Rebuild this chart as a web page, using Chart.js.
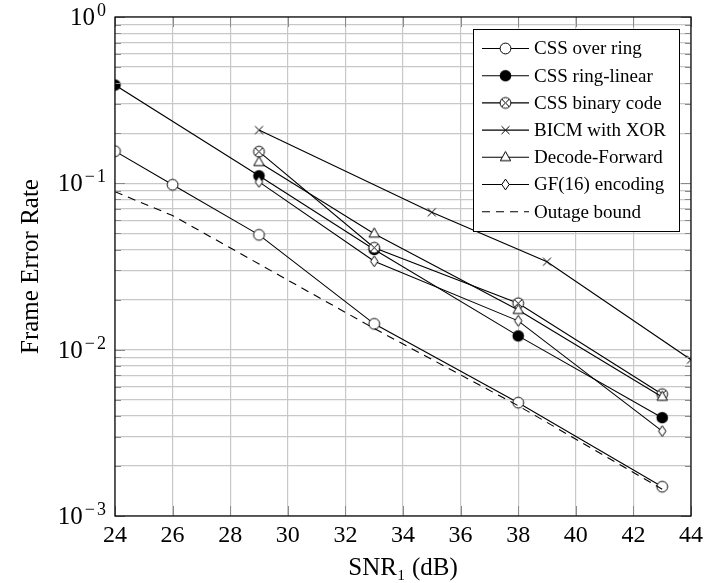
<!DOCTYPE html>
<html>
<head>
<meta charset="utf-8">
<script src="https://cdn.jsdelivr.net/npm/chart.js@4"></script>
<style>
  html, body { margin: 0; padding: 0; background: #fff; }
  canvas { display: block; }
</style>
</head>
<body>
<canvas id="myChart" width="715" height="583"></canvas>
<script>
// values
const xTicks = [24, 26, 28, 30, 32, 34, 36, 38, 40, 42, 44];
const yTickValues = [0.001, 0.01, 0.1, 1];
const yTickExponents = ['\u22123', '\u22122', '\u22121', '0'];

const ringSnr = [24, 26, 29, 33, 38, 43];
const ringFer = [0.156, 0.098, 0.049, 0.0143, 0.0048, 0.0015];

const linearSnr = [24, 29, 33, 38, 43];
const linearFer = [0.39, 0.111, 0.040, 0.0121, 0.0039];

const binarySnr = [29, 33, 38, 43];
const binaryFer = [0.155, 0.041, 0.019, 0.0054];

const bicmSnr = [29, 35, 39, 44];
const bicmFer = [0.209, 0.067, 0.0338, 0.0087];

const dfSnr = [29, 33, 38, 43];
const dfFer = [0.134, 0.0498, 0.0173, 0.0052];

const gfSnr = [29, 33, 38, 43];
const gfFer = [0.102, 0.034, 0.0149, 0.00324];

const outageSnr = [24, 26, 33, 38, 43];
const outageFer = [0.089, 0.064, 0.0134, 0.0046, 0.00145];

const serif = "'Liberation Serif', 'DejaVu Serif', serif";

function makeMarker(kind) {
    const s = 15, c = document.createElement('canvas');
    c.width = s; c.height = s;
    const g = c.getContext('2d');
    const m = s / 2;
    g.lineWidth = 1;
    g.strokeStyle = '#000';
    g.fillStyle = '#fff';
    g.beginPath();
    if (kind === 'o' || kind === 'otimes') {
        g.arc(m, m, 5.4, 0, Math.PI * 2);
        g.fill(); g.stroke();
        if (kind === 'otimes') {
            const d = 3.7;
            g.beginPath();
            g.moveTo(m - d, m - d); g.lineTo(m + d, m + d);
            g.moveTo(m + d, m - d); g.lineTo(m - d, m + d);
            g.stroke();
        }
    } else if (kind === '*') {
        g.fillStyle = '#000';
        g.arc(m, m, 5.8, 0, Math.PI * 2);
        g.fill();
    } else if (kind === 'x') {
        const d = 4;
        g.moveTo(m - d, m - d); g.lineTo(m + d, m + d);
        g.moveTo(m + d, m - d); g.lineTo(m - d, m + d);
        g.stroke();
    } else if (kind === 'triangle') {
        g.moveTo(m, m - 5.8); g.lineTo(m + 5.2, m + 3.4); g.lineTo(m - 5.2, m + 3.4); g.closePath();
        g.fill(); g.stroke();
    } else if (kind === 'diamond') {
        g.moveTo(m, m - 5.4); g.lineTo(m + 3.7, m); g.lineTo(m, m + 5.4); g.lineTo(m - 3.7, m); g.closePath();
        g.fill(); g.stroke();
    }
    return c;
}

function pts(xs, ys) {
    return xs.map((x, i) => ({ x: x, y: ys[i] }));
}

function series(label, xs, ys, kind, dash) {
    return {
        label: label,
        data: pts(xs, ys),
        borderColor: '#000',
        borderWidth: 1.1,
        borderDash: dash || [],
        pointStyle: kind ? makeMarker(kind) : false,
        pointRadius: kind ? 5 : 0,
        fill: false,
        tension: 0
    };
}

const datasets = [
    series('CSS over ring', ringSnr, ringFer, 'o'),
    series('CSS ring-linear', linearSnr, linearFer, '*'),
    series('CSS binary code', binarySnr, binaryFer, 'otimes'),
    series('BICM with XOR', bicmSnr, bicmFer, 'x'),
    series('Decode-Forward', dfSnr, dfFer, 'triangle'),
    series('GF(16) encoding', gfSnr, gfFer, 'diamond'),
    series('Outage bound', outageSnr, outageFer, null, [8, 6])
];
datasets.forEach((d, i) => { d.order = datasets.length - i; });

const framePlugin = {
    id: 'frame',
    afterDraw(chart) {
        const ctx = chart.ctx;
        const a = chart.chartArea;
        const xs = chart.scales.x, ys = chart.scales.y;
        ctx.save();
        // inner tick marks
        ctx.strokeStyle = '#8a8a8a';
        ctx.lineWidth = 1;
        ctx.beginPath();
        xTicks.forEach(v => {
            const px = Math.round(xs.getPixelForValue(v)) + 0.5;
            ctx.moveTo(px, a.bottom); ctx.lineTo(px, a.bottom - 10);
            ctx.moveTo(px, a.top); ctx.lineTo(px, a.top + 10);
        });
        ys.ticks.forEach(t => {
            const py = Math.round(ys.getPixelForValue(t.value)) + 0.5;
            const len = yTickValues.includes(t.value) ? 10 : 6;
            ctx.moveTo(a.left, py); ctx.lineTo(a.left + len, py);
            ctx.moveTo(a.right, py); ctx.lineTo(a.right - len, py);
        });
        ctx.stroke();

        // axis box
        ctx.strokeStyle = '#000';
        ctx.lineWidth = 1.2;
        ctx.strokeRect(a.left, a.top, a.right - a.left, a.bottom - a.top);

        // y tick labels: 10 with raised exponent
        ctx.fillStyle = '#000';
        ctx.textAlign = 'right';
        ctx.textBaseline = 'alphabetic';
        yTickValues.forEach((v, i) => {
            const py = ys.getPixelForValue(v);
            const right = a.left - 9;
            const ex = yTickExponents[i];
            ctx.font = '18px ' + serif;
            let ew = 0;
            if (ex.length > 1) {
                const digit = ex.slice(1);
                const dw = ctx.measureText(digit).width;
                ctx.fillText(digit, right, py - 1);
                ctx.fillText(ex[0], right - dw - 2, py - 1);
                ew = dw + 2 + ctx.measureText(ex[0]).width;
            } else {
                ew = ctx.measureText(ex).width;
                ctx.fillText(ex, right, py - 1);
            }
            ctx.font = '25px ' + serif;
            ctx.fillText('10', right - ew - 2, py + 8);
        });

        // legend
        const bx = 473.5, by = 29.5, bw = 206, bh = 202;
        ctx.fillStyle = '#fff';
        ctx.fillRect(bx, by, bw, bh);
        ctx.lineWidth = 1;
        ctx.strokeRect(bx, by, bw, bh);
        ctx.font = '19px ' + serif;
        ctx.textBaseline = 'middle';
        ctx.textAlign = 'left';
        chart.data.datasets.forEach((d, i) => {
            const y = 48.5 + i * 27.2;
            ctx.strokeStyle = '#000';
            ctx.lineWidth = 1.1;
            ctx.setLineDash(d.borderDash || []);
            ctx.beginPath();
            ctx.moveTo(482, y); ctx.lineTo(529, y);
            ctx.stroke();
            ctx.setLineDash([]);
            if (d.pointStyle) {
                const m = d.pointStyle;
                ctx.drawImage(m, 505.5 - m.width / 2, y - m.height / 2);
            }
            ctx.fillStyle = '#000';
            ctx.fillText(d.label, 534, y + 1);
        });
        ctx.restore();
    }
};

const ctx = document.getElementById('myChart').getContext('2d');
const myChart = new Chart(ctx, {
    type: 'line',
    data: { datasets: datasets },
    options: {
        responsive: false,
        animation: false,
        devicePixelRatio: 1,
        layout: { padding: { left: 16, right: 24, top: 17, bottom: 0 } },
        plugins: {
            legend: { display: false },
            tooltip: { enabled: false }
        },
        scales: {
            x: {
                type: 'linear',
                min: 24,
                max: 44,
                afterBuildTicks: scale => { scale.ticks = xTicks.map(v => ({ value: v })); },
                afterFit: scale => { scale.height = 67; },
                ticks: {
                    autoSkip: false,
                    maxRotation: 0,
                    padding: 5,
                    color: '#000',
                    font: { family: serif, size: 24 },
                    callback: v => String(v)
                },
                grid: { color: '#c8c8c8', lineWidth: 1.2, drawTicks: false },
                border: { display: false },
                title: {
                    display: true,
                    text: 'SNR\u2081 (dB)',
                    color: '#000',
                    padding: 0,
                    font: { family: serif, size: 25 }
                }
            },
            y: {
                type: 'logarithmic',
                min: 0.001,
                max: 1,
                afterBuildTicks: scale => {
                    const t = [];
                    [0.001, 0.01, 0.1].forEach(dec => {
                        for (let k = 1; k < 10; k++) t.push({ value: parseFloat((k * dec).toPrecision(3)) });
                    });
                    t.push({ value: 1 });
                    scale.ticks = t;
                },
                afterFit: scale => { scale.width = 99; },
                ticks: { display: false, autoSkip: false },
                grid: { color: '#c8c8c8', lineWidth: 1.2, drawTicks: false },
                border: { display: false },
                title: {
                    display: true,
                    text: 'Frame Error Rate',
                    color: '#000',
                    padding: 0,
                    font: { family: serif, size: 25 }
                }
            }
        }
    },
    plugins: [framePlugin]
});
</script>
</body>
</html>
